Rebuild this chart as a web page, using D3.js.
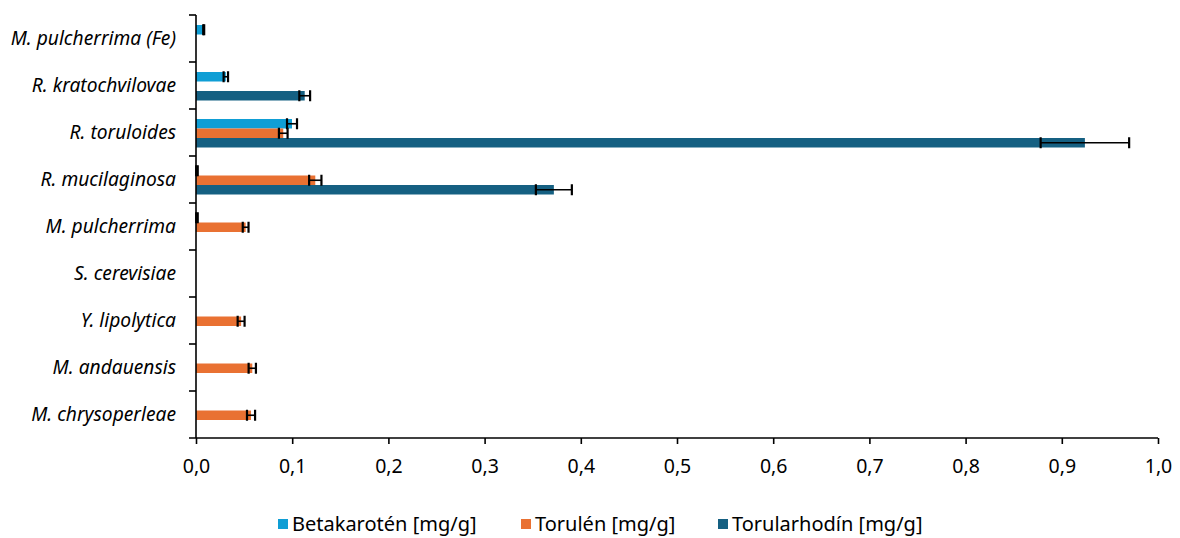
<!DOCTYPE html>
<html>
<head>
<meta charset="utf-8">
<script src="https://cdn.jsdelivr.net/npm/d3@7"></script>
<style>
  body { margin: 0; background: #fff; }
  text { font-family: "Noto Sans", sans-serif; fill: #000; }
  .ylab { font-style: italic; font-size: 19.2px; }
  .xlab { font-size: 19.5px; }
  .leg { font-size: 20px; }
</style>
</head>
<body>
<svg id="chart"></svg>
<script>
// categories from top to bottom
const categories = ["M. pulcherrima (Fe)", "R. kratochvilovae", "R. toruloides", "R. mucilaginosa",
  "M. pulcherrima", "S. cerevisiae", "Y. lipolytica", "M. andauensis", "M. chrysoperleae"];
const seriesNames = ["Betakarotén [mg/g]", "Torulén [mg/g]", "Torularhodín [mg/g]"];
const seriesColors = ["#0F9ED5", "#E97132", "#156082"];

const betakaroten    = [0.008, 0.031, 0.0998, 0.001, 0.001, 0, 0, 0, 0];
const betakarotenErr = [0.0005, 0.0023, 0.0052, 0.0008, 0.0008, 0, 0, 0, 0];
const torulen        = [0, 0, 0.0907, 0.124, 0.0516, 0, 0.0469, 0.0585, 0.0572];
const torulenErr     = [0, 0, 0.0045, 0.0064, 0.003, 0, 0.0036, 0.0038, 0.0042];
const torularhodin    = [0, 0.113, 0.924, 0.372, 0, 0, 0, 0, 0];
const torularhodinErr = [0, 0.0056, 0.046, 0.0187, 0, 0, 0, 0, 0];

const xTicks = [0, 0.1, 0.2, 0.3, 0.4, 0.5, 0.6, 0.7, 0.8, 0.9, 1.0];

const values = [betakaroten, torulen, torularhodin];
const errors = [betakarotenErr, torulenErr, torularhodinErr];

var W = 1180, H = 538;
var margin = { top: 15, right: 22, bottom: 100, left: 196 };
var width = W - margin.left - margin.right;
var height = H - margin.top - margin.bottom;

var svg = d3.select("#chart").attr("width", W).attr("height", H);
var g = svg.append("g").attr("transform", "translate(" + margin.left + "," + margin.top + ")");

var x = d3.scaleLinear().domain([0, 1]).range([0, width]);
var y = d3.scaleBand().domain(categories).range([0, height]);
var inner = d3.scaleBand().domain([0, 1, 2]).range([10, y.bandwidth() - 8.5]);

// flatten records
var records = [];
categories.forEach((c, i) => {
  values.forEach((arr, s) => {
    records.push({ cat: c, s: s, v: arr[i], e: errors[s][i] });
  });
});

// bars
g.selectAll(".bar")
  .data(records.filter(d => d.v > 0))
  .enter()
  .append("rect")
  .attr("class", "bar")
  .attr("x", x(0))
  .attr("y", d => y(d.cat) + inner(d.s))
  .attr("width", d => x(d.v) - x(0))
  .attr("height", inner.bandwidth())
  .attr("fill", d => seriesColors[d.s]);

// error bars
var eb = g.selectAll(".err")
  .data(records.filter(d => d.v > 0))
  .enter()
  .append("g")
  .attr("class", "err")
  .attr("stroke", "#000")
  .attr("stroke-width", 1.6);

eb.append("line")
  .attr("x1", d => x(d.v - d.e)).attr("x2", d => x(d.v + d.e))
  .attr("y1", d => y(d.cat) + inner(d.s) + inner.bandwidth() / 2)
  .attr("y2", d => y(d.cat) + inner(d.s) + inner.bandwidth() / 2);
[-1, 1].forEach(sign => {
  eb.append("line")
    .attr("x1", d => x(d.v + sign * d.e)).attr("x2", d => x(d.v + sign * d.e))
    .attr("y1", d => y(d.cat) + inner(d.s) + inner.bandwidth() / 2 - 5.5)
    .attr("y2", d => y(d.cat) + inner(d.s) + inner.bandwidth() / 2 + 5.5)
    .attr("stroke-width", 2.2);
});

// y axis: ticks at category boundaries
var yAxisG = g.append("g").attr("class", "y axis");
yAxisG.append("line")
  .attr("x1", 0).attr("x2", 0).attr("y1", 0).attr("y2", height)
  .attr("stroke", "#000").attr("stroke-width", 1.6);
yAxisG.selectAll(".ytick")
  .data(categories)
  .enter()
  .append("line")
  .attr("x1", -7).attr("x2", 0)
  .attr("y1", d => y(d)).attr("y2", d => y(d))
  .attr("stroke", "#000").attr("stroke-width", 1.6);
yAxisG.selectAll(".ylab")
  .data(categories)
  .enter()
  .append("text")
  .attr("class", "ylab")
  .attr("x", -20)
  .attr("y", d => y(d) + y.bandwidth() / 2)
  .attr("dy", "0.35em")
  .attr("text-anchor", "end")
  .text(d => d);

// x axis
var xAxis = d3.axisBottom(x).tickValues(xTicks).tickSize(6).tickPadding(15)
  .tickFormat(d => d3.format(".1f")(d).replace(".", ","));
var xg = g.append("g")
  .attr("class", "x axis")
  .attr("transform", "translate(0," + height + ")")
  .call(xAxis);
xg.select(".domain").remove();
xg.append("line").attr("x1", -7).attr("x2", width).attr("stroke", "#000").attr("stroke-width", 1.6);
xg.selectAll(".tick line").attr("stroke", "#000").attr("stroke-width", 1.6);
xg.selectAll(".tick text").attr("class", "xlab").attr("font-size", null).attr("font-family", null);

// legend
var legendX = [278, 521, 718];
var leg = svg.append("g").attr("class", "legend");
seriesNames.forEach((name, i) => {
  leg.append("rect")
    .attr("x", legendX[i]).attr("y", 519)
    .attr("width", 10).attr("height", 10)
    .attr("fill", seriesColors[i]);
  leg.append("text")
    .attr("class", "leg")
    .attr("x", legendX[i] + 14).attr("y", 524)
    .attr("dy", "0.35em")
    .text(name);
});
</script>
</body>
</html>
